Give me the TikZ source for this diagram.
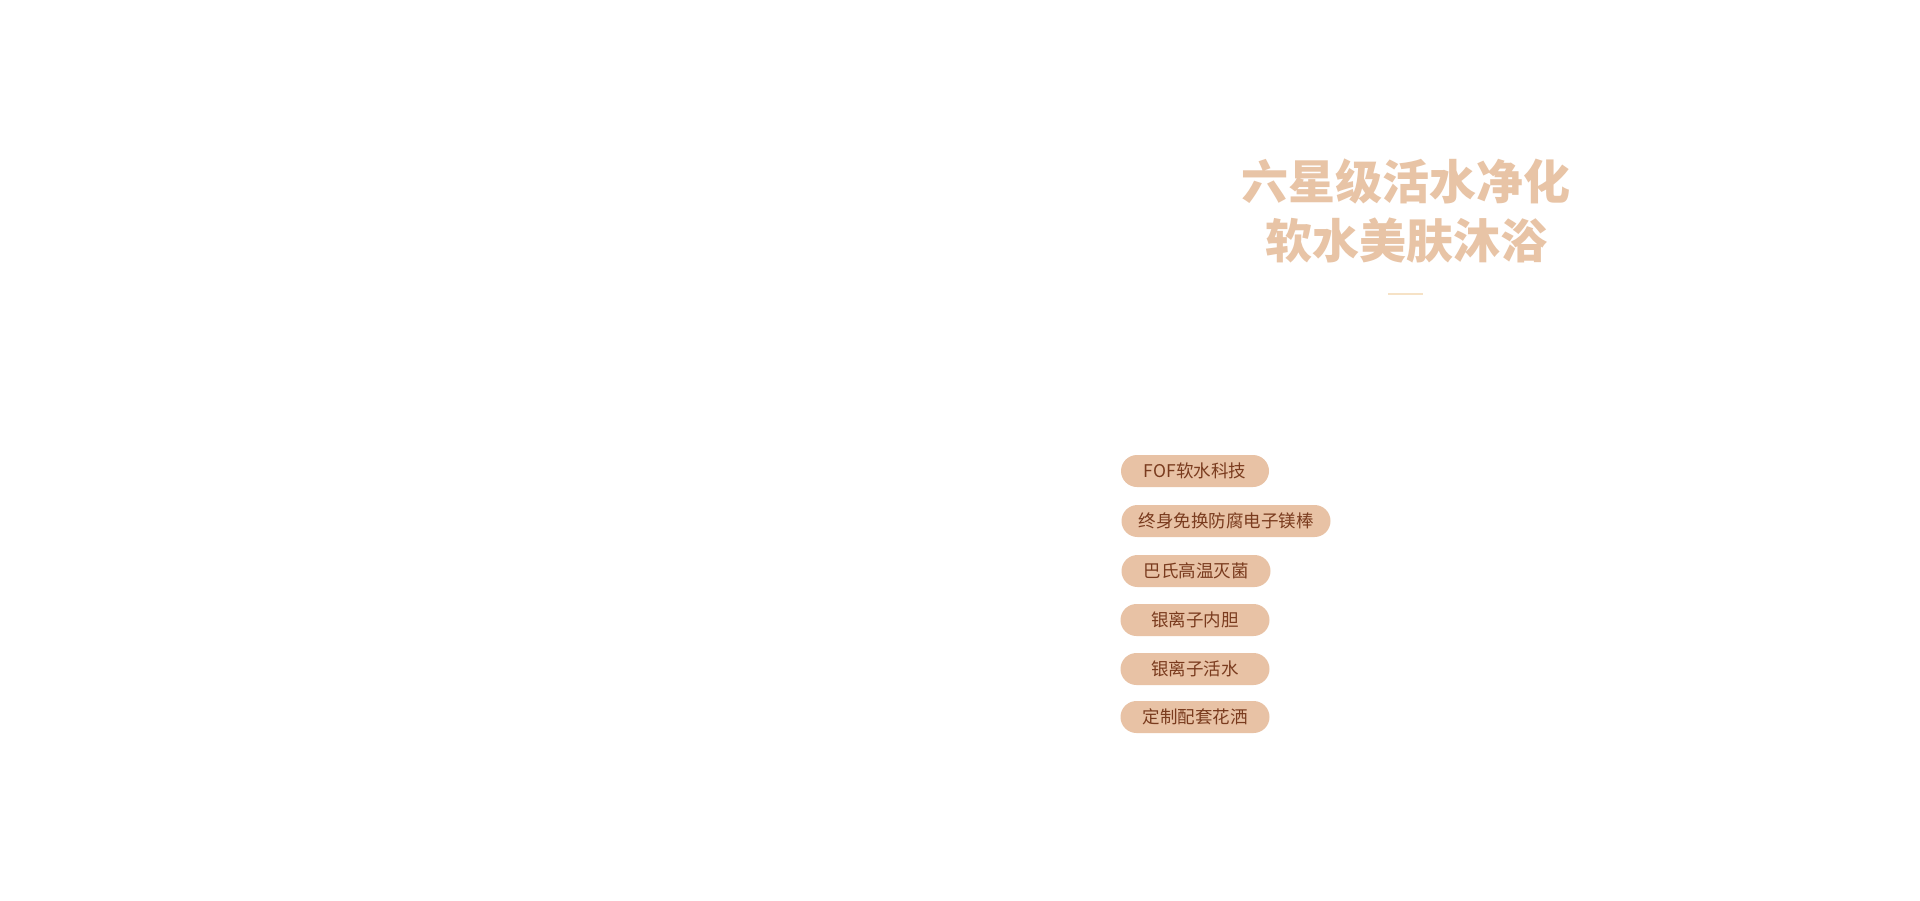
\documentclass[tikz,border=0pt]{standalone}
\usepackage{fontspec}
\setmainfont{Noto Sans CJK SC}
\definecolor{titlec}{HTML}{E8C4A6}
\definecolor{pillc}{HTML}{E8C2A5}
\definecolor{pilltxt}{HTML}{7A3B1E}
\definecolor{dashc}{HTML}{F6E2C6}
\begin{document}
\begin{tikzpicture}[x=1pt,y=-1pt,
  pill/.style={fill=pillc,rounded corners=16pt,minimum height=32pt,inner sep=0pt,text=pilltxt,font=\fontsize{17.5}{18}\selectfont},
  ttl/.style={text=titlec,font=\fontsize{47}{50}\selectfont\bfseries,inner sep=0pt}]
\useasboundingbox[fill=white] (0,0) rectangle (1920,900);
\node[ttl] (t1) at (1406,181) {六星级活水净化};
\node[ttl] (t2) at (1406,240) {软水美肤沐浴};
\draw[dashc,line width=2pt] (1388,294) -- (1423,294);
\node[pill,minimum width=148pt] (p1) at (1195,471) {FOF软水科技};
\node[pill,minimum width=209pt] (p2) at (1226,521) {终身免换防腐电子镁棒};
\node[pill,minimum width=149pt] (p3) at (1196,571) {巴氏高温灭菌};
\node[pill,minimum width=149pt] (p4) at (1195,620) {银离子内胆};
\node[pill,minimum width=149pt] (p5) at (1195,669) {银离子活水};
\node[pill,minimum width=149pt] (p6) at (1195,717) {定制配套花洒};
\end{tikzpicture}
\end{document}
